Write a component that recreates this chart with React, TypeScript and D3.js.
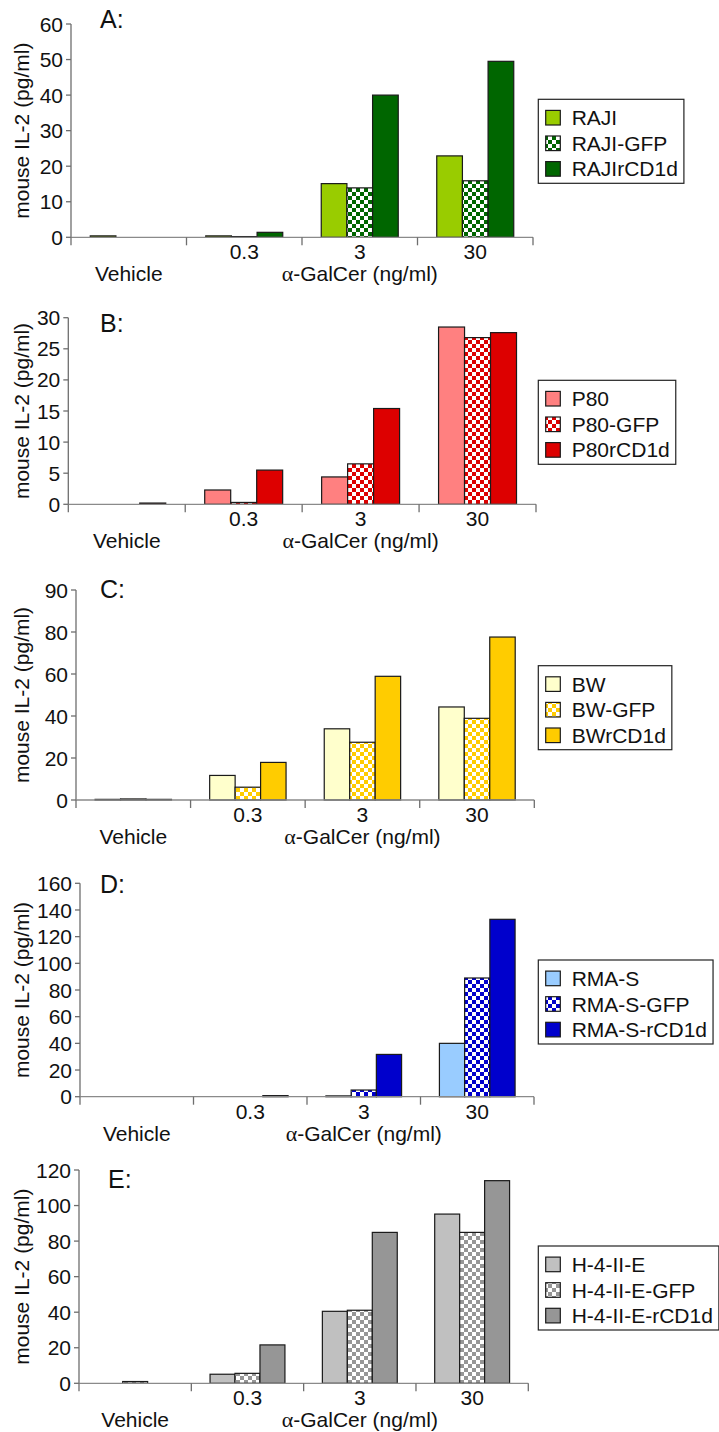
import React, { useEffect, useRef } from "react";
import * as d3 from "d3";

// ---------- data ----------
const categories = ["Vehicle", "0.3", "3", "30"];
const groupLabels = ["Vehicle", "α-GalCer (ng/ml)"];
const yAxisTitle = "mouse IL-2 (pg/ml)";

// Panel A
const seriesNamesA = ["RAJI", "RAJI-GFP", "RAJIrCD1d"];
const rajiValues = [0.4, 0.4, 15.1, 22.9];
const rajiGfpValues = [0, 0.2, 13.9, 15.9];
const rajiRcd1dValues = [0, 1.4, 40.0, 49.5];
const yTicksA = [0, 10, 20, 30, 40, 50, 60];
const yTickLabelsA = ["0", "10", "20", "30", "40", "50", "60"];

// Panel B
const seriesNamesB = ["P80", "P80-GFP", "P80rCD1d"];
const p80Values = [0, 2.3, 4.4, 28.5];
const p80GfpValues = [0, 0.3, 6.5, 26.8];
const p80Rcd1dValues = [0.2, 5.5, 15.4, 27.6];
const yTicksB = [0, 5, 10, 15, 20, 25, 30];
const yTickLabelsB = ["0", "5", "10", "15", "20", "25", "30"];

// Panel C
const seriesNamesC = ["BW", "BW-GFP", "BWrCD1d"];
const bwValues = [0.3, 11.7, 33.9, 44.3];
const bwGfpValues = [0.5, 6.1, 27.5, 38.9];
const bwRcd1dValues = [0.3, 17.9, 58.9, 77.6];
const yTicksC = [0, 20, 40, 60, 80, 100];
const yTickLabelsC = ["0", "20", "40", "60", "80", "90"];

// Panel D
const seriesNamesD = ["RMA-S", "RMA-S-GFP", "RMA-S-rCD1d"];
const rmaValues = [0, 0, 0.6, 40];
const rmaGfpValues = [0, 0, 5, 89];
const rmaRcd1dValues = [0, 0.8, 31.7, 133];
const yTicksD = [0, 20, 40, 60, 80, 100, 120, 140, 160];
const yTickLabelsD = ["0", "20", "40", "60", "80", "100", "120", "140", "160"];

// Panel E
const seriesNamesE = ["H-4-II-E", "H-4-II-E-GFP", "H-4-II-E-rCD1d"];
const h4Values = [0, 5.1, 40.5, 95.2];
const h4GfpValues = [1, 5.6, 41.1, 84.9];
const h4Rcd1dValues = [0, 21.6, 84.9, 114];
const yTicksE = [0, 20, 40, 60, 80, 100, 120];
const yTickLabelsE = ["0", "20", "40", "60", "80", "100", "120"];

// ---------- styling / layout ----------
const FONT = "'Liberation Sans', Arial, Helvetica, sans-serif";
const SERIF = "'Liberation Serif', 'Times New Roman', serif";
const FS = 21;

const panels = [
  {
    letter: "A:", names: seriesNamesA, values: [rajiValues, rajiGfpValues, rajiRcd1dValues],
    ticks: yTicksA, tickLabels: yTickLabelsA, light: "#99cc00", dark: "#006600",
    layout: { left: 71, right: 533, top: 24, bottom: 237.3, letterX: 100, letterY: 28, legendTop: 99.3 },
  },
  {
    letter: "B:", names: seriesNamesB, values: [p80Values, p80GfpValues, p80Rcd1dValues],
    ticks: yTicksB, tickLabels: yTickLabelsB, light: "#ff8080", dark: "#dd0000",
    layout: { left: 68.3, right: 536, top: 317.7, bottom: 504.3, letterX: 100, letterY: 332, legendTop: 380.3 },
  },
  {
    letter: "C:", names: seriesNamesC, values: [bwValues, bwGfpValues, bwRcd1dValues],
    ticks: yTicksC, tickLabels: yTickLabelsC, light: "#ffffcc", dark: "#ffcc00",
    layout: { left: 76, right: 534.3, top: 590, bottom: 800, letterX: 100, letterY: 598, legendTop: 665.7 },
  },
  {
    letter: "D:", names: seriesNamesD, values: [rmaValues, rmaGfpValues, rmaRcd1dValues],
    ticks: yTicksD, tickLabels: yTickLabelsD, light: "#99ccff", dark: "#0000cc",
    layout: { left: 80, right: 534, top: 883.3, bottom: 1096.7, letterX: 100, letterY: 893, legendTop: 960 },
  },
  {
    letter: "E:", names: seriesNamesE, values: [h4Values, h4GfpValues, h4Rcd1dValues],
    ticks: yTicksE, tickLabels: yTickLabelsE, light: "#c0c0c0", dark: "#969696",
    layout: { left: 79, right: 528.3, top: 1170, bottom: 1383.3, letterX: 108, letterY: 1188, legendTop: 1246 },
  },
];

export default function App() {
  const ref = useRef<SVGSVGElement | null>(null);

  useEffect(() => {
    const svg = d3.select(ref.current);
    svg.selectAll("*").remove();
    const defs = svg.append("defs");

    panels.forEach((p, pi) => {
      const L = p.layout;
      const pid = `chk${pi}`;
      const pat = defs.append("pattern").attr("id", pid).attr("patternUnits", "userSpaceOnUse")
        .attr("width", 8).attr("height", 8);
      pat.append("rect").attr("width", 8).attr("height", 8).attr("fill", "#ffffff");
      pat.append("rect").attr("width", 4).attr("height", 4).attr("fill", p.dark);
      pat.append("rect").attr("x", 4).attr("y", 4).attr("width", 4).attr("height", 4).attr("fill", p.dark);

      const fills = [p.light, `url(#${pid})`, p.dark];

      const g = svg.append("g");
      const y = d3.scaleLinear().domain([0, p.ticks[p.ticks.length - 1]]).range([L.bottom, L.top]);
      const x = d3.scaleBand().domain(categories).range([L.left, L.right]).paddingInner(0).paddingOuter(0);
      const bw = x.bandwidth();
      const xs = d3.scaleBand().domain(["0", "1", "2"]).range([bw / 6, bw * 5 / 6]);

      // bars
      p.values.forEach((vals, si) => {
        g.selectAll(null).data(categories.map((c, i) => ({ c, v: vals[i] })).filter(d => d.v > 0))
          .enter().append("rect")
          .attr("x", d => (x(d.c) as number) + (xs(String(si)) as number))
          .attr("y", d => y(d.v))
          .attr("width", xs.bandwidth())
          .attr("height", d => L.bottom - y(d.v))
          .attr("fill", fills[si])
          .attr("stroke", "#1a1a1a")
          .attr("stroke-width", 1.2);
      });

      // y axis
      g.append("line").attr("x1", L.left).attr("x2", L.left).attr("y1", L.top).attr("y2", L.bottom)
        .attr("stroke", "#6e6e6e").attr("stroke-width", 1.3);
      p.ticks.forEach((t, i) => {
        g.append("line").attr("x1", L.left - 5).attr("x2", L.left).attr("y1", y(t)).attr("y2", y(t))
          .attr("stroke", "#6e6e6e").attr("stroke-width", 1.3);
        g.append("text").attr("x", L.left - 8).attr("y", y(t)).attr("dy", "0.36em")
          .attr("text-anchor", "end").attr("font-family", FONT).attr("font-size", FS).attr("fill", "#111")
          .text(p.tickLabels[i]);
      });

      // x axis
      g.append("line").attr("x1", L.left).attr("x2", L.right).attr("y1", L.bottom).attr("y2", L.bottom)
        .attr("stroke", "#8a8a8a").attr("stroke-width", 1.3);
      d3.range(categories.length + 1).forEach(i => {
        const xx = L.left + i * bw;
        g.append("line").attr("x1", xx).attr("x2", xx).attr("y1", L.bottom).attr("y2", L.bottom + 8)
          .attr("stroke", "#6e6e6e").attr("stroke-width", 1.3);
      });
      categories.forEach((c, i) => {
        if (i === 0) return;
        g.append("text").attr("x", (x(c) as number) + bw / 2).attr("y", L.bottom + 22)
          .attr("text-anchor", "middle").attr("font-family", FONT).attr("font-size", FS).attr("fill", "#111")
          .text(c);
      });
      g.append("text").attr("x", (x(categories[0]) as number) + bw / 2).attr("y", L.bottom + 44)
        .attr("text-anchor", "middle").attr("font-family", FONT).attr("font-size", FS).attr("fill", "#111")
        .text(groupLabels[0]);
      const gl = g.append("text").attr("x", (x(categories[1]) as number + L.right) / 2).attr("y", L.bottom + 44)
        .attr("text-anchor", "middle").attr("font-family", FONT).attr("font-size", FS).attr("fill", "#111");
      gl.append("tspan").attr("font-family", SERIF).attr("font-size", FS + 1).text(groupLabels[1].slice(0, 1));
      gl.append("tspan").text(groupLabels[1].slice(1));

      // y title
      g.append("text").attr("transform", `translate(28.5,${(L.top + L.bottom) / 2}) rotate(-90)`)
        .attr("text-anchor", "middle").attr("font-family", FONT).attr("font-size", FS).attr("fill", "#111")
        .text(yAxisTitle);

      // panel letter
      g.append("text").attr("x", L.letterX).attr("y", L.letterY)
        .attr("font-family", FONT).attr("font-size", 25).attr("fill", "#111").text(p.letter);

      // legend
      const lx = 538.3;
      const lg = g.append("g");
      const box = lg.append("rect").attr("x", lx).attr("y", L.legendTop).attr("height", 84)
        .attr("fill", "#fff").attr("stroke", "#222").attr("stroke-width", 1.2);
      let maxRight = 0;
      p.names.forEach((n, i) => {
        const cy = L.legendTop + 18.4 + i * 25.6;
        lg.append("rect").attr("x", lx + 7.4).attr("y", cy - 7.3).attr("width", 14.6).attr("height", 14.6)
          .attr("fill", fills[i]).attr("stroke", "#1a1a1a").attr("stroke-width", 1.2);
        const t = lg.append("text").attr("x", lx + 33.4).attr("y", cy).attr("dy", "0.36em")
          .attr("font-family", FONT).attr("font-size", FS).attr("fill", "#111").text(n);
        const node = t.node() as SVGTextElement;
        const w = node.getComputedTextLength();
        maxRight = Math.max(maxRight, lx + 33.4 + w);
      });
      box.attr("width", maxRight + 6 - lx);
    });
  }, []);

  return (
    <svg ref={ref} width={719} height={1432}
      style={{ position: "absolute", left: 0, top: 0, background: "#fff", display: "block" }} />
  );
}
